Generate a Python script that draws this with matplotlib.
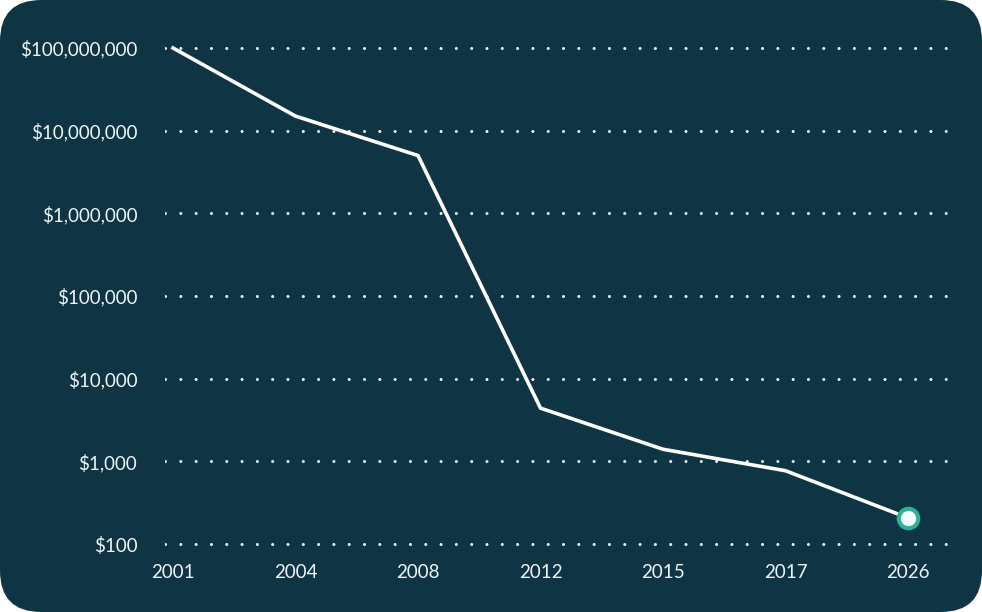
import numpy as np
import matplotlib.pyplot as plt
from matplotlib.patches import FancyBboxPatch
from matplotlib.ticker import FixedLocator, NullLocator

years = ["2001", "2004", "2008", "2012", "2015", "2017", "2026"]
cost = [100_000_000, 15_000_000, 5_000_000, 4_400, 1_400, 770, 207]
y_ticks = [100, 1_000, 10_000, 100_000, 1_000_000, 10_000_000, 100_000_000]

BG = "#0f3443"
TXT = "#eef5f7"
ACCENT = "#2db394"

W, H = 982, 612
fig = plt.figure(figsize=(W / 100, H / 100), dpi=100, facecolor="white")

# rounded dark card behind everything
card = FancyBboxPatch((0, 0), 1, 1, boxstyle="round,pad=0,rounding_size=0.042",
                      transform=fig.transFigure, facecolor=BG, edgecolor="none",
                      mutation_aspect=W / H, zorder=-10)
fig.patches.append(card)

# axes box in pixels: x 165..949, y 40..552 (from top)
left, right = 165, 949
top, bottom = 40, 552
ax = fig.add_axes([left / W, 1 - bottom / H, (right - left) / W, (bottom - top) / H])
ax.set_facecolor("none")
ax.set_zorder(5)

x = np.arange(len(years))
ax.plot(x, cost, color="white", lw=2.6, solid_joinstyle="miter", zorder=3)
ax.plot(x[-1], cost[-1], "o", ms=14, mfc="#f5fbff", mec=ACCENT, mew=3, zorder=4)

ax.set_yscale("log")
pad = 8 / 82.7
ax.set_ylim(10 ** (2 - pad), 10 ** (8 + pad))
x0, step = 173, 122.5
ax.set_xlim((left - x0) / step, (right - x0) / step)

ax.yaxis.set_major_locator(FixedLocator(y_ticks))
ax.yaxis.set_minor_locator(NullLocator())
ax.set_yticklabels([f"${v:,}" for v in y_ticks])
ax.set_xticks(x)
ax.set_xticklabels(years)

for v in y_ticks:
    ax.axhline(v, color=TXT, lw=2.2, ls=(0, (0.01, 5)), dash_capstyle="round",
               zorder=1)

for s in ax.spines.values():
    s.set_visible(False)
ax.tick_params(axis="both", length=0, colors=TXT, labelsize=13.5)
ax.tick_params(axis="y", pad=20)
ax.tick_params(axis="x", pad=9)
for lab in ax.get_xticklabels() + ax.get_yticklabels():
    lab.set_family(["Lato", "DejaVu Sans"])

fig.savefig("out.png", dpi=100, facecolor="white")
